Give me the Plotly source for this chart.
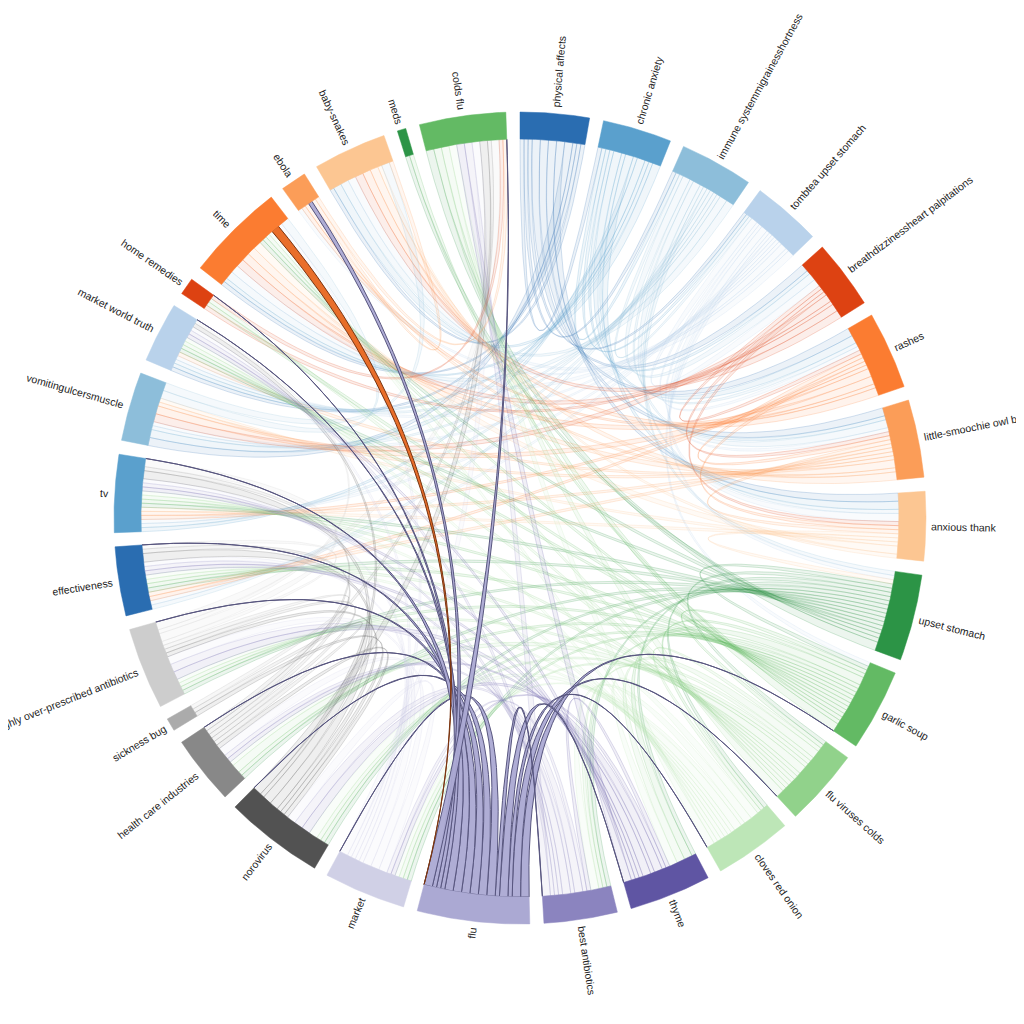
import math
import plotly.graph_objects as go

# ---------------- data ----------------
nodes = ["physical affects", "chronic anxiety", "immune systemmigrainesshortness",
         "tombtea upset stomach", "breathdizzinessheart palpitations", "rashes",
         "little-smoochie owl baby", "anxious thank", "upset stomach", "garlic soup",
         "flu viruses colds", "cloves red onion", "thyme", "best antibiotics", "flu",
         "market", "norovirus", "health care industries", "sickness bug",
         "highly over-prescribed antibiotics", "effectiveness", "tv",
         "vomitingulcersmuscle", "market world truth", "home remedies", "time",
         "ebola", "baby-snakes", "meds", "colds flu"]

node_values = [16, 16, 17, 16, 16, 18, 18, 16, 20, 19, 18, 18, 19, 17, 26,
               19, 23, 16, 3, 19, 16, 18, 16, 14, 4, 23, 6, 17, 2, 20]

# symmetric links: (node a, node b, width)
links = [
    (0, 1, 1), (0, 2, 1), (0, 3, 1), (1, 2, 1), (1, 3, 1), (2, 3, 1),
    (0, 4, 2), (0, 5, 2), (0, 6, 2), (0, 7, 2),
    (1, 4, 1), (1, 5, 2), (1, 6, 1), (1, 7, 2),
    (2, 4, 2), (2, 5, 1), (2, 6, 2), (2, 7, 1),
    (3, 4, 2), (3, 5, 1), (3, 6, 1), (3, 7, 2),
    (2, 8, 1), (3, 8, 1), (3, 9, 1),
    (0, 22, 2), (0, 23, 1), (1, 21, 1), (1, 22, 2), (1, 23, 1), (2, 20, 1), (2, 21, 1),
    (2, 22, 1), (2, 23, 1), (3, 20, 1), (3, 21, 1), (3, 22, 1), (3, 23, 1),
    (0, 25, 1), (0, 27, 1), (1, 25, 1), (1, 27, 2), (2, 25, 2), (2, 27, 2), (3, 25, 2),
    (3, 26, 1), (3, 27, 2),
    (4, 5, 1), (4, 6, 1), (4, 7, 1), (5, 6, 1), (5, 7, 1), (6, 7, 1),
    (7, 8, 1),
    (4, 22, 2), (5, 20, 1), (5, 21, 1), (5, 22, 2), (6, 20, 1), (6, 21, 1), (6, 22, 1),
    (6, 23, 1), (7, 21, 1), (7, 22, 1),
    (4, 24, 1), (4, 25, 2), (4, 27, 2), (5, 25, 2), (5, 26, 1), (5, 27, 2), (6, 25, 2),
    (6, 26, 1), (6, 27, 2), (7, 25, 2), (7, 27, 1),
    (8, 9, 1), (8, 10, 1), (8, 11, 1), (9, 10, 1), (9, 11, 1), (10, 11, 1),
    (8, 12, 1), (8, 13, 1), (8, 15, 1), (9, 12, 2), (9, 13, 1), (9, 15, 1), (10, 12, 2),
    (10, 13, 1), (10, 15, 1), (11, 12, 2), (11, 13, 2), (11, 15, 1),
    (8, 16, 1), (8, 17, 1), (8, 19, 1), (9, 16, 1), (9, 17, 1), (9, 19, 1), (10, 16, 1),
    (10, 17, 2), (10, 19, 1), (11, 16, 2), (11, 17, 1), (11, 19, 1),
    (8, 20, 1), (8, 21, 1), (8, 23, 1), (9, 20, 1), (9, 21, 1), (9, 23, 1), (10, 20, 1),
    (10, 21, 1), (10, 23, 1), (11, 20, 1), (11, 21, 1), (11, 23, 1),
    (8, 25, 1), (9, 24, 1), (9, 25, 1), (10, 24, 1), (10, 25, 1), (11, 25, 1),
    (8, 28, 1), (8, 29, 2), (9, 28, 1), (9, 29, 2), (10, 29, 2), (11, 29, 2),
    (12, 13, 1), (12, 15, 1), (13, 15, 1),
    (12, 16, 2), (12, 17, 1), (12, 19, 2), (13, 16, 2), (13, 17, 1), (13, 19, 2),
    (15, 16, 2), (15, 17, 2), (15, 19, 2),
    (12, 20, 1), (12, 21, 1), (12, 23, 1), (13, 20, 1), (13, 21, 1), (13, 23, 1),
    (15, 20, 1), (15, 21, 1), (15, 23, 1),
    (12, 29, 2), (13, 29, 2), (15, 29, 2), (15, 25, 1),
    (16, 17, 1), (16, 18, 1), (16, 19, 1), (17, 18, 1), (17, 19, 1), (18, 19, 1),
    (16, 20, 2), (16, 21, 2), (16, 23, 1), (17, 20, 1), (17, 21, 1), (19, 20, 1),
    (19, 21, 2), (19, 23, 1),
    (16, 29, 2), (17, 29, 1), (19, 29, 2),
    (22, 25, 2), (22, 27, 2), (24, 29, 1), (26, 27, 1), (26, 29, 1),
]

# highlighted links of the selected node: (source, target, width at source, width at target)
selected_node = 14
selected_links = [
    (14, 9, 2, 0), (14, 10, 2, 0), (14, 11, 1, 0), (14, 12, 2, 0), (14, 13, 1, 0),
    (14, 15, 2, 0), (14, 16, 2, 0), (14, 17, 2, 0), (14, 19, 2, 0), (14, 20, 2, 0),
    (14, 21, 2, 0), (14, 23, 1, 0), (14, 24, 1, 0), (14, 26, 1, 1), (14, 29, 2, 0),
    (25, 14, 2, 0),
]

palette = ["#2a6db1", "#5aa0cd", "#8dbeda", "#b9d2eb", "#dd4212", "#fb7c31", "#fb9d58",
           "#fcc692", "#2c9446", "#63ba64", "#91d28b", "#bde6b7", "#5f55a3", "#8b84bf",
           "#aba9d3", "#d0d0e6", "#525252", "#888888", "#ababab", "#cdcdcd"]

# ---------------- layout helpers ----------------
N = len(nodes)
PAD = 2.0
R_IN, R_OUT, R_LAB = 379.0, 406.0, 412.0
FONT_SIZE = 10.5

node_colors = [palette[i % len(palette)] for i in range(N)]


def rgba(hexc, a):
    h = hexc.lstrip("#")
    return "rgba(%d,%d,%d,%.3f)" % (int(h[0:2], 16), int(h[2:4], 16), int(h[4:6], 16), a)


def pt(theta, r):
    t = math.radians(theta)
    return (r * math.sin(t), r * math.cos(t))


def arc(a0, a1, r, step=0.7):
    n = max(2, int(abs(a1 - a0) / step) + 2)
    return [pt(a0 + (a1 - a0) * i / (n - 1), r) for i in range(n)]


def quad(p0, p2, n=48):
    out = []
    for i in range(n):
        t = i / (n - 1)
        out.append(((1 - t) ** 2 * p0[0] + t * t * p2[0], (1 - t) ** 2 * p0[1] + t * t * p2[1]))
    return out


ARIAL = {'a': 556, 'b': 556, 'c': 500, 'd': 556, 'e': 556, 'f': 278, 'g': 556, 'h': 556,
         'i': 222, 'j': 222, 'k': 500, 'l': 222, 'm': 833, 'n': 556, 'o': 556, 'p': 556,
         'q': 556, 'r': 333, 's': 500, 't': 278, 'u': 556, 'v': 500, 'w': 722, 'x': 500,
         'y': 500, 'z': 500, ' ': 278, '-': 333}


def text_width(s, size):
    return sum(ARIAL.get(c, 556) for c in s) * size / 1000.0


k = (360.0 - N * PAD) / sum(node_values)
starts, stops = [], []
acc = 0.0
for v in node_values:
    starts.append(acc)
    acc += v * k
    stops.append(acc)
    acc += PAD

all_links = [(s, t, n, n, False) for s, t, n in links] + \
            [(s, t, ws, wt, True) for s, t, ws, wt in selected_links]

node_ends = [[] for _ in range(N)]
for li, (s, t, ws, wt, hl) in enumerate(all_links):
    node_ends[s].append((t, ws, li, 0))
    node_ends[t].append((s, wt, li, 1))

span = {}
for i in range(N):
    nz = sorted([e for e in node_ends[i] if e[1] > 0], key=lambda e: e[0])
    zz = sorted([e for e in node_ends[i] if e[1] == 0], key=lambda e: e[0])
    tot = sum(e[1] for e in nz)
    sc = (stops[i] - starts[i]) / tot if tot else 0
    a = starts[i]
    for p, w, li, side in nz:
        span[(li, side)] = (a, a + w * sc)
        a += w * sc
    for p, w, li, side in zz:
        span[(li, side)] = (stops[i], stops[i])

fig = go.Figure()


def ribbon(li):
    sa0, sa1 = span[(li, 0)]
    ta0, ta1 = span[(li, 1)]
    pts = arc(sa0, sa1, R_IN)
    pts += quad(pt(sa1, R_IN), pt(ta0, R_IN))[1:]
    pts += arc(ta0, ta1, R_IN)[1:]
    pts += quad(pt(ta1, R_IN), pt(sa0, R_IN))[1:]
    return [p[0] for p in pts], [p[1] for p in pts]


# faded ribbons
for li, (s, t, ws, wt, hl) in enumerate(all_links):
    if hl:
        continue
    xs, ys = ribbon(li)
    c = node_colors[s]
    fig.add_trace(go.Scatter(x=xs, y=ys, mode="lines", fill="toself",
                             fillcolor=rgba(c, 0.09), line=dict(color=rgba(c, 0.26), width=0.8),
                             hoverinfo="skip", showlegend=False))

# highlighted ribbons
for li, (s, t, ws, wt, hl) in enumerate(all_links):
    if not hl:
        continue
    xs, ys = ribbon(li)
    c = node_colors[s]
    edge = "#58567f" if s == selected_node else "#7a3410"
    fill = rgba(c, 0.95) if s == selected_node else rgba("#e8661f", 0.95)
    fig.add_trace(go.Scatter(x=xs, y=ys, mode="lines", fill="toself",
                             fillcolor=fill, line=dict(color=edge, width=1),
                             hoverinfo="skip", showlegend=False))

# node arcs
for i in range(N):
    outer = arc(starts[i], stops[i], R_OUT, 0.3)
    inner = arc(stops[i], starts[i], R_IN, 0.3)
    pts = outer + inner + [outer[0]]
    fig.add_trace(go.Scatter(x=[p[0] for p in pts], y=[p[1] for p in pts], mode="lines",
                             fill="toself", fillcolor=node_colors[i],
                             line=dict(color=node_colors[i], width=0.5),
                             hoverinfo="skip", showlegend=False))

# labels
annotations = []
for i, name in enumerate(nodes):
    mid = (starts[i] + stops[i]) / 2.0
    w = text_width(name, FONT_SIZE)
    rc = R_LAB + w / 2.0
    x, y = pt(mid, rc)
    ang = mid - 90 if mid < 180 else mid - 270
    annotations.append(dict(x=x, y=y, xref="x", yref="y", text=name, showarrow=False,
                            textangle=ang, xanchor="center", yanchor="middle",
                            font=dict(family="Liberation Sans, Arial, Helvetica, sans-serif",
                                      size=FONT_SIZE, color="#222222"),
                            borderpad=0))

fig.update_layout(
    width=1024, height=1024,
    margin=dict(l=0, r=0, t=0, b=0),
    paper_bgcolor="white", plot_bgcolor="white",
    showlegend=False,
    xaxis=dict(range=[-512, 512], visible=False, fixedrange=True),
    yaxis=dict(range=[-514, 510], visible=False, fixedrange=True),
    annotations=annotations,
)

fig.write_html("out.html")
